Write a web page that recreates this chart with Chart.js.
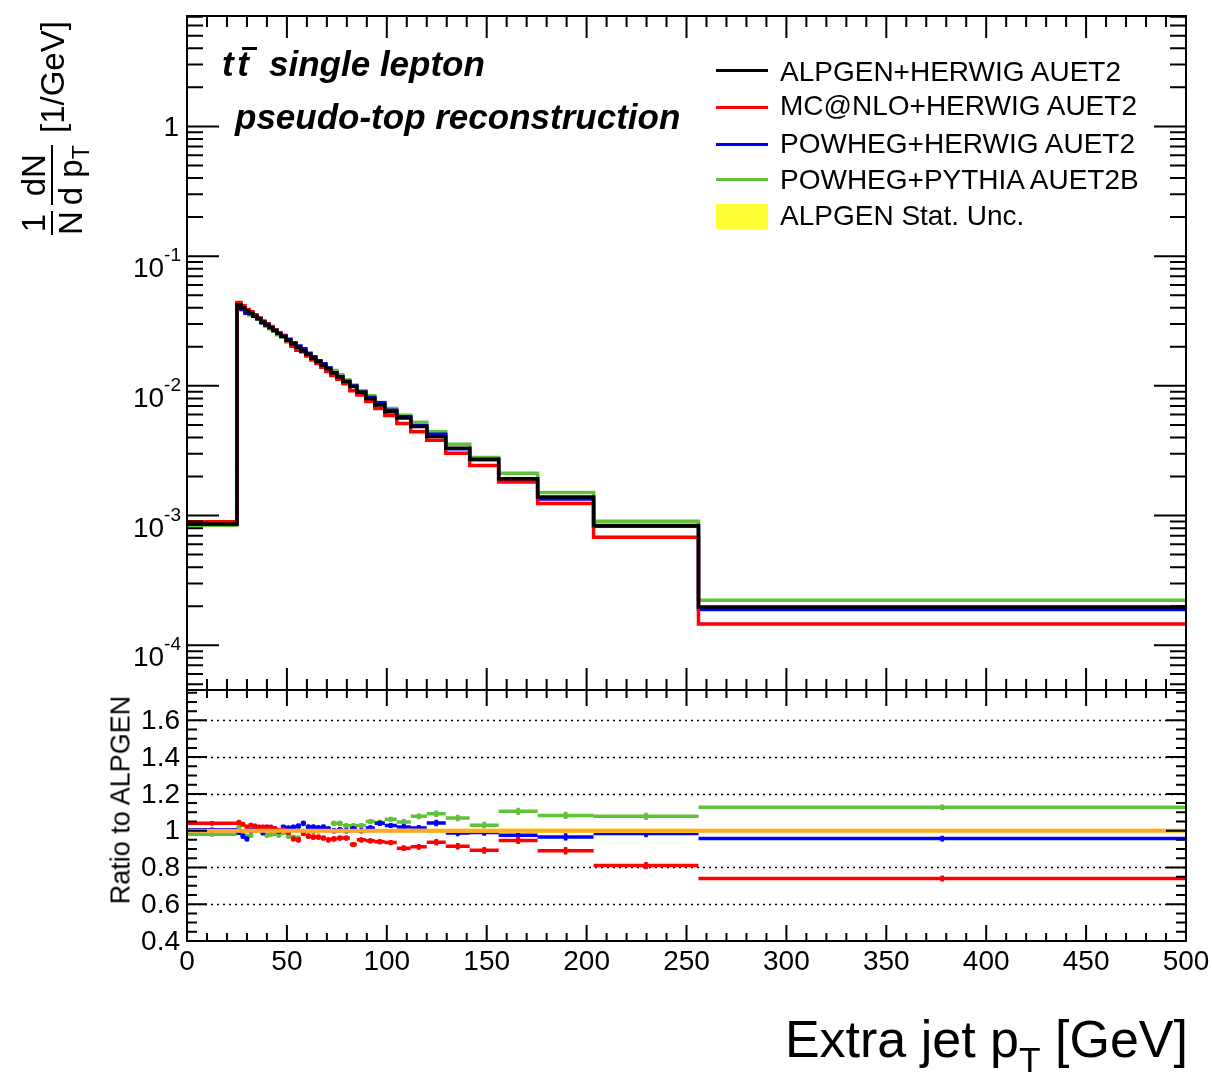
<!DOCTYPE html>
<html lang="en">
<head>
<meta charset="utf-8">
<title>Extra jet pT</title>
<script src="https://cdn.jsdelivr.net/npm/chart.js@4.4.1/dist/chart.umd.min.js"></script>
<style>
  body { margin: 0; background: #fff; }
  #wrap { position: relative; width: 1212px; height: 1083px; overflow: hidden;
          font-family: "Liberation Sans", Arial, Helvetica, sans-serif; color: #000; }
  #wrap canvas { position: absolute; left: 0; top: 0; }
  .lbl { position: absolute; white-space: nowrap; line-height: 1; }
  .tag { font-size: 35px; font-weight: bold; font-style: italic; }
  .tbar { position: relative; display: inline-block; margin-left: 0.1em; margin-right: 0.3em; }
  .tbar::after { content: ""; position: absolute; left: 0.14em; width: 0.42em; top: 0.04em; height: 3px; background: #000; }
  .leg { font-size: 28px; left: 780px; }
  .legline { position: absolute; left: 716px; width: 52px; height: 3px; }
  #xtitle { right: 24px; top: 1013px; font-size: 52px; }
  #xtitle sub { font-size: 0.68em; line-height: 0; vertical-align: -0.42em; }
  #ytitle sub { font-size: 0.7em; line-height: 0; vertical-align: -0.3em; }
  #rtitle { font-size: 27px; left: 121px; top: 800px; transform: translate(-50%, -50%) rotate(-90deg); }
  #ytitle { font-size: 33px; left: 17px; top: 238px; transform-origin: 0 0; transform: rotate(-90deg);
            display: flex; align-items: center; }
  .frac { display: inline-flex; flex-direction: column; align-items: center; margin: 0 3px; }
  .frac .bar { align-self: stretch; height: 2px; background: #000; margin: 1px 0; }
</style>
</head>
<body>
<div id="wrap">
  <canvas id="mainPlot" width="1212" height="1083"></canvas>
  <canvas id="ratioPlot" width="1212" height="1083"></canvas>

  <div class="lbl tag" style="left:222px; top:46px;">t<span class="tbar">t</span> single lepton</div>
  <div class="lbl tag" style="left:235px; top:99px;">pseudo-top reconstruction</div>

  <div class="legline" style="top:69px; background:#000;"></div>
  <div class="legline" style="top:106px; background:#ff0000;"></div>
  <div class="legline" style="top:143px; background:#0000ff;"></div>
  <div class="legline" style="top:178px; background:#62c13a;"></div>
  <div class="legline" style="top:204px; height:25px; background:#ffff33;"></div>
  <div class="lbl leg" style="top:58px;">ALPGEN+HERWIG AUET2</div>
  <div class="lbl leg" style="top:92px;">MC@NLO+HERWIG AUET2</div>
  <div class="lbl leg" style="top:130px;">POWHEG+HERWIG AUET2</div>
  <div class="lbl leg" style="top:166px;">POWHEG+PYTHIA AUET2B</div>
  <div class="lbl leg" style="top:202px;">ALPGEN Stat. Unc.</div>

  <div class="lbl" id="ytitle">
    <span class="frac"><span>1</span><span class="bar"></span><span>N</span></span>
    <span class="frac"><span>dN</span><span class="bar"></span><span>d p<sub>T</sub></span></span>
    <span>&nbsp;[1/GeV]</span>
  </div>
  <div class="lbl" id="rtitle">Ratio to ALPGEN</div>
  <div class="lbl" id="xtitle">Extra jet p<sub>T</sub> [GeV]</div>
</div>

<script>
// histogram binning in extra jet pT [GeV]
const binEdges = [0, 25, 27, 29, 31, 33, 35, 37, 39, 41, 43, 45, 47, 49.5, 52, 54.5, 57, 59.5, 62,
  64.5, 67, 69.5, 72, 75, 78, 81.5, 85, 89.5, 94, 99, 105, 112, 120, 129.5, 141.5, 156, 175.5,
  203.5, 256, 500];

// ALPGEN+HERWIG normalised distribution, 1/N dN/dpT [1/GeV]
const alpgen = [8.6e-4, 0.0421, 0.0400, 0.0380, 0.0361, 0.0344, 0.0327, 0.0310, 0.0295, 0.0281,
  0.0267, 0.0254, 0.0240, 0.0225, 0.0211, 0.0198, 0.0186, 0.0175, 0.0164, 0.0154, 0.0145, 0.0136,
  0.0126, 0.0117, 0.0108, 0.00989, 0.00893, 0.00800, 0.00711, 0.00631, 0.00566, 0.00485, 0.00406,
  0.00331, 0.00272, 0.00192, 0.00139, 0.00084, 0.000197];

// ratios of the other generators to ALPGEN
const ratioMcnlo = [1.04, 1.045, 1.035, 1.02, 1.03, 1.025, 1.02, 1.02, 1.015, 1.02, 1.01, 1.0,
  1.005, 0.99, 0.955, 0.95, 0.985, 0.97, 0.965, 0.965, 0.96, 0.95, 0.955, 0.96, 0.96, 0.925,
  0.95, 0.945, 0.94, 0.935, 0.905, 0.912, 0.937, 0.915, 0.893, 0.947, 0.891, 0.81, 0.74];
const ratioPowhegHerwig = [1.005, 0.99, 0.97, 0.955, 1.0, 1.01, 1.015, 0.99, 1.02, 1.005, 1.01,
  0.995, 1.02, 1.015, 1.02, 1.025, 1.04, 1.02, 1.02, 1.015, 1.02, 1.01, 1.0, 1.005, 1.0, 1.01,
  1.0, 1.015, 1.04, 1.028, 1.02, 1.015, 1.042, 0.988, 0.99, 0.975, 0.966, 0.984, 0.957];
const ratioPowhegPythia = [0.98, 1.02, 0.99, 0.97, 0.975, 1.0, 1.01, 0.985, 0.975, 0.98, 0.985,
  0.975, 0.99, 0.97, 0.965, 0.96, 0.99, 1.0, 0.995, 1.0, 1.005, 1.01, 1.04, 1.04, 1.027, 1.027,
  1.028, 1.05, 1.045, 1.062, 1.047, 1.078, 1.092, 1.069, 1.03, 1.105, 1.083, 1.078, 1.127];

// stat. error on the ratio points, and ALPGEN's own stat. uncertainty band
const statErr = [0.006, 0.012, 0.012, 0.012, 0.012, 0.012, 0.012, 0.012, 0.012, 0.012, 0.012,
  0.012, 0.012, 0.012, 0.012, 0.014, 0.014, 0.014, 0.014, 0.014, 0.014, 0.014, 0.014, 0.014,
  0.014, 0.014, 0.014, 0.014, 0.014, 0.014, 0.016, 0.016, 0.018, 0.018, 0.018, 0.02, 0.02, 0.02, 0.016];
const alpgenUnc = [0.005, 0.008, 0.008, 0.008, 0.008, 0.008, 0.008, 0.008, 0.008, 0.008, 0.008,
  0.008, 0.008, 0.008, 0.008, 0.009, 0.009, 0.009, 0.009, 0.009, 0.009, 0.009, 0.009, 0.009,
  0.009, 0.009, 0.009, 0.009, 0.009, 0.009, 0.01, 0.01, 0.011, 0.011, 0.011, 0.012, 0.012, 0.012, 0.01];

// axis ticks
const xTicks = [0, 50, 100, 150, 200, 250, 300, 350, 400, 450, 500];
const logTicks = [1e-4, 1e-3, 1e-2, 1e-1, 1];
const ratioTicks = [0.4, 0.6, 0.8, 1, 1.2, 1.4, 1.6];

const FONT = '"Liberation Sans", Arial, Helvetica, sans-serif';
const GREEN = '#62c13a';

// left edges of every bin plus the final right edge, for a stepped line
function histPoints(vals) {
  const pts = vals.map((v, i) => ({ x: binEdges[i], y: v }));
  pts.push({ x: binEdges[vals.length], y: vals[vals.length - 1] });
  return pts;
}

// each ratio point: horizontal bar over the bin, then the vertical error bar
// through the marker at the bin centre
function ratioPoints(vals) {
  const pts = [];
  vals.forEach((r, i) => {
    const lo = binEdges[i], hi = binEdges[i + 1], c = (lo + hi) / 2, e = statErr[i];
    pts.push({ x: lo, y: r }, { x: hi, y: r }, { x: hi, y: null },
             { x: c, y: r - e }, { x: c, y: r }, { x: c, y: r + e }, { x: c, y: null });
  });
  return pts;
}

function histDataset(label, vals, color) {
  return { label, data: histPoints(vals), borderColor: color, borderWidth: 3.5,
           stepped: 'before', pointRadius: 0, fill: false };
}

function ratioDataset(label, vals, color) {
  return { label, data: ratioPoints(vals), borderColor: color, borderWidth: 3.5,
           backgroundColor: color, pointBorderWidth: 0,
           pointRadius: ctx => (ctx.dataIndex % 7 === 4 ? 2.6 : 0),
           fill: false, spanGaps: false };
}

function baseOptions(padding, yScale) {
  return {
    responsive: false, animation: false, events: [],
    layout: { padding },
    plugins: { legend: { display: false }, tooltip: { enabled: false } },
    scales: {
      x: { type: 'linear', min: 0, max: 500, display: false },
      y: yScale
    }
  };
}

// vertical ticks on the x axis, pointing into the frame
function xTickMarks(ctx, chart, majorLen, minorLen) {
  const { chartArea: a, scales: { x } } = chart;
  for (let v = 0; v <= 500; v += 10) {
    const px = x.getPixelForValue(v);
    const len = v % 50 === 0 ? majorLen : minorLen;
    ctx.moveTo(px, a.bottom); ctx.lineTo(px, a.bottom - len);
    ctx.moveTo(px, a.top); ctx.lineTo(px, a.top + len);
  }
}

const mainAxes = {
  id: 'mainAxes',
  afterDraw(chart) {
    const { ctx, chartArea: a, scales: { y } } = chart;
    ctx.save();
    ctx.strokeStyle = '#000';
    ctx.lineWidth = 2;
    ctx.beginPath();
    xTickMarks(ctx, chart, 22, 11);
    for (let e = -5; e <= 0; e++) {
      for (let m = 1; m <= 9; m++) {
        const v = m * Math.pow(10, e);
        if (v < y.min || v > y.max) continue;
        const py = y.getPixelForValue(v);
        const len = m === 1 ? 32 : 16;
        ctx.moveTo(a.left, py); ctx.lineTo(a.left + len, py);
        ctx.moveTo(a.right, py); ctx.lineTo(a.right - len, py);
      }
    }
    ctx.stroke();
    ctx.strokeRect(a.left, a.top, a.right - a.left, a.bottom - a.top);

    ctx.fillStyle = '#000';
    ctx.textAlign = 'right';
    ctx.textBaseline = 'alphabetic';
    logTicks.forEach(v => {
      const py = y.getPixelForValue(v);
      const e = Math.round(Math.log10(v));
      if (e === 0) {
        ctx.font = '28px ' + FONT;
        ctx.fillText('1', 179, py + 10);
        return;
      }
      const sup = String(e);
      ctx.font = '19px ' + FONT;
      ctx.fillText(sup, 181, py + 5);
      const w = ctx.measureText(sup).width;
      ctx.font = '28px ' + FONT;
      ctx.fillText('10', 181 - w, py + 21);
    });
    ctx.restore();
  }
};

const ratioAxes = {
  id: 'ratioAxes',
  beforeDatasetsDraw(chart) {
    const { ctx, chartArea: a, scales: { y } } = chart;
    ctx.save();
    ctx.strokeStyle = '#000';
    ctx.lineWidth = 1.5;
    ctx.setLineDash([2, 4]);
    ctx.beginPath();
    ratioTicks.forEach(v => {
      if (v <= y.min) return;
      const py = Math.round(y.getPixelForValue(v)) + 0.5;
      ctx.moveTo(a.left, py); ctx.lineTo(a.right, py);
    });
    ctx.stroke();
    ctx.restore();
  },
  afterDraw(chart) {
    const { ctx, chartArea: a, scales: { x, y } } = chart;
    ctx.save();
    ctx.strokeStyle = '#000';
    ctx.lineWidth = 2;
    ctx.beginPath();
    xTickMarks(ctx, chart, 16, 8);
    for (let k = 8; k * 0.05 <= y.max; k++) {
      const py = y.getPixelForValue(k * 0.05);
      const len = k % 4 === 0 ? 20 : 10;
      ctx.moveTo(a.left, py); ctx.lineTo(a.left + len, py);
      ctx.moveTo(a.right, py); ctx.lineTo(a.right - len, py);
    }
    ctx.stroke();
    ctx.strokeRect(a.left, a.top, a.right - a.left, a.bottom - a.top);

    ctx.fillStyle = '#000';
    ctx.font = '28px ' + FONT;
    ctx.textAlign = 'right';
    ctx.textBaseline = 'middle';
    ratioTicks.forEach(v => ctx.fillText(String(v), 180, y.getPixelForValue(v) + 1));
    ctx.textAlign = 'center';
    ctx.textBaseline = 'alphabetic';
    xTicks.forEach(v => ctx.fillText(String(v), x.getPixelForValue(v), 970));
    ctx.restore();
  }
};

new Chart(document.getElementById('mainPlot'), {
  type: 'line',
  data: {
    datasets: [
      histDataset('ALPGEN+HERWIG AUET2', alpgen, '#000000'),
      histDataset('MC@NLO+HERWIG AUET2', alpgen.map((v, i) => v * ratioMcnlo[i]), '#ff0000'),
      histDataset('POWHEG+HERWIG AUET2', alpgen.map((v, i) => v * ratioPowhegHerwig[i]), '#0000ff'),
      histDataset('POWHEG+PYTHIA AUET2B', alpgen.map((v, i) => v * ratioPowhegPythia[i]), GREEN)
    ]
  },
  options: baseOptions({ left: 187, right: 26, top: 16, bottom: 393 },
    { type: 'logarithmic', min: 4.52e-5, max: 7.1, display: false }),
  plugins: [mainAxes]
});

new Chart(document.getElementById('ratioPlot'), {
  type: 'line',
  data: {
    datasets: [
      { label: 'ALPGEN', data: [{ x: 0, y: 1 }, { x: 500, y: 1 }], borderColor: '#ffa62b',
        borderWidth: 4, pointRadius: 0, fill: false },
      { label: 'ALPGEN Stat. Unc.', data: histPoints(alpgenUnc.map(u => 1 + u)), stepped: 'before',
        borderColor: 'rgba(0,0,0,0)', borderWidth: 0, pointRadius: 0,
        backgroundColor: '#ffff33', fill: '+1' },
      { label: 'band low', data: histPoints(alpgenUnc.map(u => 1 - u)), stepped: 'before',
        borderColor: 'rgba(0,0,0,0)', borderWidth: 0, pointRadius: 0, fill: false },
      ratioDataset('MC@NLO+HERWIG AUET2', ratioMcnlo, '#ff0000'),
      ratioDataset('POWHEG+HERWIG AUET2', ratioPowhegHerwig, '#0000ff'),
      ratioDataset('POWHEG+PYTHIA AUET2B', ratioPowhegPythia, GREEN)
    ]
  },
  options: baseOptions({ left: 187, right: 26, top: 690, bottom: 142 },
    { type: 'linear', min: 0.4, max: 1.765, display: false }),
  plugins: [ratioAxes]
});
</script>
</body>
</html>
